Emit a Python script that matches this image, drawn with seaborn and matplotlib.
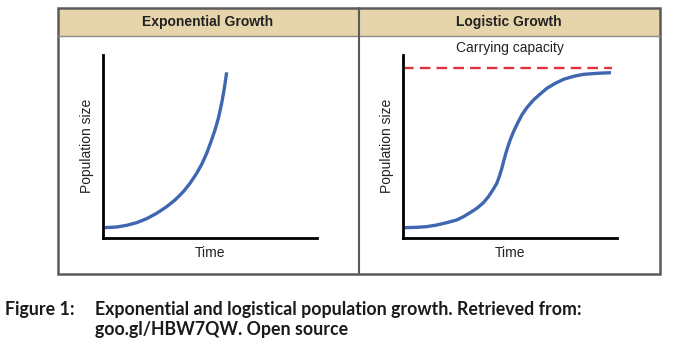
import matplotlib
matplotlib.use("Agg")
import matplotlib.pyplot as plt
import seaborn as sns
import pandas as pd
from matplotlib.patches import Rectangle

# ---- data (arbitrary units 0-100) ----
exp_time = [0.61, 6.52, 11.19, 15.85, 20.52, 25.18, 29.85, 33.74, 37.62, 40.74,
            43.85, 46.18, 48.52, 50.54, 52.40, 53.96, 55.51, 56.76, 57.85]
exp_pop = [5.49, 5.86, 6.77, 8.23, 10.42, 13.34, 16.98, 20.63, 25.19, 29.76,
           35.23, 40.16, 46.18, 52.56, 58.95, 65.34, 73.55, 81.76, 90.51]

log_time = [0.61, 6.53, 11.20, 15.87, 20.55, 25.22, 28.33, 31.45, 34.57, 37.68,
            40.01, 42.04, 43.91, 45.16, 46.25, 47.34, 48.58, 50.14, 51.70, 53.57,
            55.59, 57.93, 61.04, 64.16, 67.28, 71.17, 75.06, 79.73, 84.41, 90.64,
            97.18]
log_pop = [5.49, 5.68, 6.04, 6.95, 8.23, 9.69, 11.51, 13.70, 16.07, 19.17,
           22.46, 26.11, 29.76, 33.77, 37.97, 42.89, 48.00, 53.48, 58.04, 62.60,
           67.16, 71.17, 75.38, 78.66, 81.76, 84.49, 86.68, 88.33, 89.42, 89.97,
           90.33]

carrying_capacity = 93.0
cap_span = [0, 97.7]

panel_titles = ["Exponential Growth", "Logistic Growth"]
x_label = "Time"
y_label = "Population size"
cap_label = "Carrying capacity"
caption_head = "Figure 1:"
caption_lines = ["Exponential and logistical population growth. Retrieved from:",
                 "goo.gl/HBW7QW. Open source"]

sns.set_style("white")
plt.rcParams["font.family"] = ["Liberation Sans", "DejaVu Sans"]

W, H = 673, 348
fig = plt.figure(figsize=(W / 100, H / 100), dpi=100)

# background axes in pixel coordinates for the frame
bg = fig.add_axes([0, 0, 1, 1], zorder=0)
bg.set_xlim(0, W)
bg.set_ylim(H, 0)
bg.axis("off")

frame_col = "#5b5b5b"
x0, x1, xm = 57.5, 660, 358.5
y0, yh, y1 = 8, 36, 273.5
bg.add_patch(Rectangle((x0, y0), x1 - x0, yh - y0, facecolor="#E6D4AB",
                       edgecolor="none"))
bg.plot([x0, x1], [yh, yh], color="#8a8a8a", lw=1.0)
bg.add_patch(Rectangle((x0, y0), x1 - x0, y1 - y0, facecolor="none",
                       edgecolor=frame_col, lw=1.8))
bg.plot([xm, xm], [y0, y1], color=frame_col, lw=1.5)

for cx, t in zip([208, 509], panel_titles):
    bg.text(cx, 22, t, ha="center", va="center", fontsize=10,
            fontweight="bold", color="#222222")

cap_font = ["Lato", "DejaVu Sans"]
cap_size = 12.8
bg.text(5, 310, caption_head, ha="left", va="center", fontsize=cap_size,
        fontweight="bold", family=cap_font, color="#1a1a1a")
bg.text(95, 310, caption_lines[0], ha="left", va="center", fontsize=cap_size,
        fontweight="bold", family=cap_font, color="#1a1a1a")
bg.text(95, 330, caption_lines[1], ha="left", va="center", fontsize=cap_size,
        fontweight="bold", family=cap_font, color="#1a1a1a")

blue = "#3F66B0"
ax_w = 214.3 / W
ax_h = 182.7 / H
ax_b = (H - 237.7) / H
axes = [fig.add_axes([102.7 / W, ax_b, ax_w, ax_h], zorder=2),
        fig.add_axes([402.7 / W, ax_b, ax_w, ax_h], zorder=2)]

df_exp = pd.DataFrame({"t": exp_time, "n": exp_pop})
df_log = pd.DataFrame({"t": log_time, "n": log_pop})

for ax, df in zip(axes, [df_exp, df_log]):
    ax.patch.set_alpha(0)
    sns.lineplot(data=df, x="t", y="n", ax=ax, color=blue, lw=2.4,
                 sort=False, estimator=None)
    ax.lines[-1].set_solid_joinstyle("round")
    ax.lines[-1].set_solid_capstyle("butt")
    ax.set_xlim(0, 100)
    ax.set_ylim(0, 100)
    ax.set_xticks([])
    ax.set_yticks([])
    for s in ["top", "right"]:
        ax.spines[s].set_visible(False)
    for s in ["left", "bottom"]:
        ax.spines[s].set_color("black")
        ax.spines[s].set_linewidth(2.0)
    ax.set_xlabel(x_label, fontsize=10, labelpad=6, color="#222222")
    ax.set_ylabel(y_label, fontsize=10, labelpad=6, color="#222222")

ax = axes[1]
ax.plot(cap_span, [carrying_capacity] * 2, color="#E0323C", lw=1.7,
        ls=(0, (4.5, 2.6)))
ax.text(50, 100, cap_label, ha="center", va="bottom", fontsize=10,
        color="#222222", clip_on=False)

fig.savefig("out.png", dpi=100)
